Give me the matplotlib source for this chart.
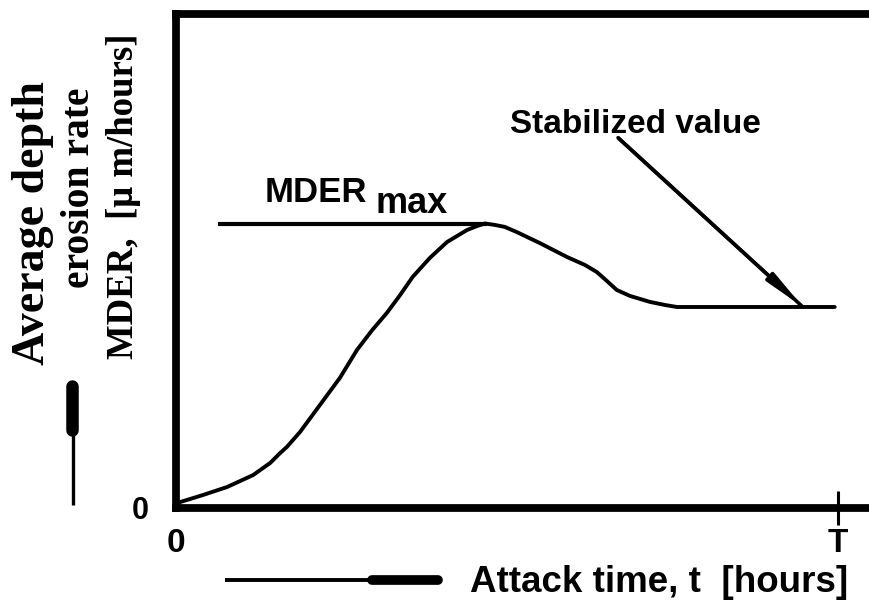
import matplotlib
matplotlib.use("Agg")
import matplotlib.pyplot as plt
from matplotlib.lines import Line2D
from matplotlib.patches import FancyArrowPatch

# ---- data (schematic values) ----
t_hours = [0.0, 0.068, 0.415, 0.777, 1.17, 1.43, 1.58, 1.68, 1.88, 2.18, 2.48,
           2.74, 2.97, 3.19, 3.39, 3.58, 3.84, 4.10, 4.40, 4.55, 4.67, 4.82,
           4.97, 5.15, 5.50, 5.91, 6.18, 6.36, 6.51, 6.66, 6.86, 7.16, 7.39,
           7.57, 9.95]
mder = [0.0, 0.019, 0.044, 0.072, 0.114, 0.157, 0.192, 0.213, 0.266, 0.361, 0.456,
        0.555, 0.625, 0.685, 0.748, 0.812, 0.879, 0.935, 0.977, 0.991, 1.0, 0.995,
        0.988, 0.970, 0.931, 0.882, 0.854, 0.829, 0.798, 0.766, 0.745, 0.724, 0.713,
        0.706, 0.706]
T_end = 10.0
x_tick_labels = ["0", "T"]
y_tick_labels = ["0"]
max_line_span = [0.64, 4.70]
stab_arrow_start = [6.68, 1.302]
stab_arrow_end_t = 9.47

W, H = 869, 601
fig = plt.figure(figsize=(W / 100, H / 100), dpi=100)
fig.patch.set_facecolor("white")

left_px, bottom_px, top_px = 175.5, 507.5, 14
ax = fig.add_axes([left_px / W, (H - bottom_px) / H, 1 - left_px / W, (bottom_px - top_px) / H])
px_per_t = (838 - left_px) / T_end
px_per_v = bottom_px - 223.5
ax.set_xlim(0, (W - left_px) / px_per_t)
ax.set_ylim(0, (bottom_px - top_px) / px_per_v)

for s in ["left", "bottom", "top"]:
    ax.spines[s].set_linewidth(5.6)
    ax.spines[s].set_color("black")
ax.spines["right"].set_visible(False)

# curve
ax.plot(t_hours, mder, color="black", lw=2.8, solid_capstyle="round",
        solid_joinstyle="round", clip_on=False)

# MDER max line
ax.plot(max_line_span, [max(mder), max(mder)], color="black", lw=3.0, solid_capstyle="butt")

# stabilized arrow: shaft reaching the plateau plus an elongated head
ax.plot([stab_arrow_start[0], stab_arrow_end_t], [stab_arrow_start[1], mder[-1]],
        color="black", lw=2.6, solid_capstyle="butt")
arrow = FancyArrowPatch(posA=tuple(stab_arrow_start), posB=(stab_arrow_end_t, mder[-1]),
                        arrowstyle="-|>,head_length=1.5,head_width=0.2",
                        mutation_scale=15, lw=2.6, color="black",
                        shrinkA=0, shrinkB=0, transform=ax.transData)
ax.add_patch(arrow)

# ticks
ax.xaxis.remove_overlapping_locs = False
ax.set_xticks([0, T_end])
ax.set_xticklabels(x_tick_labels)
ax.set_yticks([0])
ax.set_yticklabels(y_tick_labels)
ax.tick_params(axis="both", which="major", length=0)
ax.tick_params(axis="x", pad=15)
ax.tick_params(axis="y", pad=19)
for lab in ax.get_xticklabels():
    lab.set_fontfamily("Liberation Sans")
    lab.set_fontweight("bold")
    lab.set_fontsize(24)
for lab in ax.get_yticklabels():
    lab.set_fontfamily("Liberation Sans")
    lab.set_fontweight("bold")
    lab.set_fontsize(22)
ax.set_xticks([T_end], minor=True)
ax.tick_params(axis="x", which="minor", direction="inout", length=24, width=2.2,
               color="black", labelbottom=False)

# texts in the plot
sans = dict(family="Liberation Sans", fontweight="bold", color="black")
mtxt = ax.text((265 - left_px) / px_per_t, (bottom_px - 202) / px_per_v, "MDER",
               fontsize=25, ha="left", va="baseline", **sans)
ax.annotate("max", xy=(1, 0), xycoords=mtxt, xytext=(6, -3), textcoords="offset points",
            fontsize=26, ha="left", va="baseline", **sans)
ax.text((510 - left_px) / px_per_t, (bottom_px - 133) / px_per_v, "Stabilized value",
        fontsize=24, ha="left", va="baseline", **sans)

# x label with arrow
fig.text(470 / W, (H - 592) / H, "Attack time, t  [hours]", fontsize=26.5,
         ha="left", va="baseline", **sans)
fig.add_artist(Line2D([225 / W, 440 / W], [(H - 580) / H] * 2, transform=fig.transFigure,
                      color="black", lw=2.8, solid_capstyle="butt"))
fig.add_artist(Line2D([372 / W, 438 / W], [(H - 580) / H] * 2, transform=fig.transFigure,
                      color="black", lw=7, solid_capstyle="round"))

# y label (three rotated lines) with arrow
serif = dict(family="Liberation Serif", fontweight="bold", color="black",
             rotation=90, rotation_mode="anchor", ha="center", va="baseline")
fig.text(44 / W, (H - 223) / H, "Average depth", fontsize=33, **serif)
fig.text(89 / W, (H - 188) / H, "erosion rate", fontsize=28.5, **serif)
fig.text(133 / W, (H - 196) / H, "MDER,  [\u03bc m/hours]", fontsize=26.5, **serif)
fig.add_artist(Line2D([73 / W] * 2, [(H - 505) / H, (H - 383) / H], transform=fig.transFigure,
                      color="black", lw=2.4, solid_capstyle="butt"))
fig.add_artist(Line2D([72 / W] * 2, [(H - 430) / H, (H - 386) / H], transform=fig.transFigure,
                      color="black", lw=9, solid_capstyle="round"))

fig.savefig("out.png", dpi=100, facecolor="white")
